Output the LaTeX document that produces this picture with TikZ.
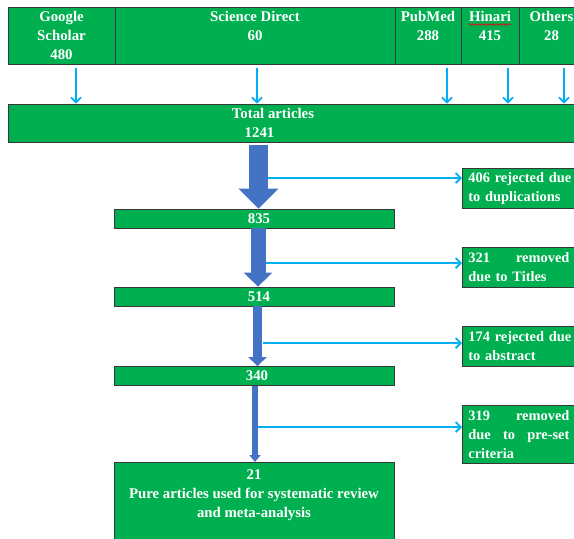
\documentclass[tikz,border=0pt]{standalone}
\usepackage{fontspec}
\setmainfont{Liberation Serif}
\usetikzlibrary{arrows.meta,decorations.pathmorphing}
\definecolor{boxgreen}{RGB}{0,176,80}
\definecolor{boxline}{RGB}{55,55,55}
\definecolor{skyblue}{RGB}{0,176,240}
\definecolor{flowblue}{RGB}{68,114,196}
\definecolor{spellred}{RGB}{200,30,30}
\newcommand\jline[1]{\leavevmode\hbox to 101pt{#1}}
\begin{document}
\begin{tikzpicture}[x=1pt,y=-1pt,
  gbox/.style={draw=boxline, line width=0.8pt, fill=boxgreen, text=white,
    font=\fontsize{14.8}{19}\selectfont\bfseries, inner sep=0pt, align=center},
  topbox/.style={gbox, minimum height=57pt},
  sidebox/.style={gbox, anchor=north west, text width=110pt, inner xsep=6pt, align=left,
    font=\fontsize{14.4}{19}\selectfont\bfseries},
  skyarrow/.style={draw=skyblue, line width=1.8pt, -{Straight Barb[length=5pt,width=10pt]}},
  flow/.style={draw=flowblue}
]
\useasboundingbox (0,0) rectangle (574,539);
\fill[white] (0,0) rectangle (574,539);

% top row
\node[topbox, minimum width=107pt] (gs) at (61.5,35.5) {Google\\Scholar\\480};
\node[topbox, minimum width=280pt] (sd) at (255,35.5) {Science Direct\\60\\\mbox{}};
\node[topbox, minimum width=66pt] (pm) at (428,35.5) {PubMed\\288\\\mbox{}};
\node[topbox, minimum width=58pt] (hi) at (490,35.5) {Hinari\\415\\\mbox{}};
\node[topbox, minimum width=65pt] (ot) at (551.5,35.5) {Others\\28\\\mbox{}};
\draw[spellred, line width=0.9pt, decorate, decoration={snake,amplitude=0.6pt,segment length=3pt}]
  ([xshift=-21pt,yshift=11pt]hi.center) -- ([xshift=21pt,yshift=11pt]hi.center);

% total
\node[gbox, minimum width=576pt, minimum height=38pt] (tot) at (296,123)
  {\hspace*{-46pt}Total articles\\\hspace*{-73pt}1241};

% column x positions
\coordinate (x1) at (76,0);
\coordinate (x2) at (257,0);
\coordinate (x3) at (447,0);
\coordinate (x4) at (508,0);
\coordinate (x5) at (564,0);
\foreach \src/\xx in {gs/x1, sd/x2, pm/x3, hi/x4, ot/x5}
  \draw[skyarrow, shorten <=4pt] (\src.south -| \xx) -- (tot.north -| \xx);

% main column
\node[gbox, minimum width=280pt, minimum height=19pt] (n835) at (254,218.5) {\hspace*{10pt}835};
\node[gbox, minimum width=280pt, minimum height=19pt] (n514) at (254,296.5) {\hspace*{10pt}514};
\node[gbox, minimum width=280pt, minimum height=19pt] (n340) at (254,376) {\hspace*{6pt}340};
\node[gbox, minimum width=280pt, minimum height=82pt, anchor=north] (n21) at (254,462)
  {21\\Pure articles used for systematic review\\and meta-analysis\\\mbox{}};

% side boxes
\node[sidebox, minimum height=40pt] (r1) at (462,168) {406 rejected due\\to duplications};
\node[sidebox, minimum height=40pt] (r2) at (462,247) {\jline{321\hfil removed}\\due to Titles};
\node[sidebox, minimum height=40pt] (r3) at (462,326) {174 rejected due\\to abstract};
\node[sidebox, minimum height=58pt] (r4) at (462,405) {\jline{319\hfil removed}\\\jline{due\hfil to\hfil pre-set}\\criteria};

% flow arrows
\coordinate (c1) at (258.5,0);
\coordinate (c2) at (258,0);
\coordinate (c3) at (257.5,0);
\coordinate (c4) at (255,0);
\draw[flow, line width=19pt, shorten <=3pt, -{Triangle[width=39pt,length=20pt]}] (tot.south -| c1) -- (n835.north -| c1);
\draw[flow, line width=15pt, -{Triangle[width=28pt,length=14pt]}] (n835.south -| c2) -- (n514.north -| c2);
\draw[flow, line width=9pt, -{Triangle[width=18pt,length=9pt]}] (n514.south -| c3) -- (n340.north -| c3);
\draw[flow, line width=6pt, -{Triangle[width=11pt,length=7pt]}] (n340.south -| c4) -- (n21.north -| c4);

% side arrows
\coordinate (s1) at (268,178);
\coordinate (s2) at (266,263);
\coordinate (s3) at (263,343);
\coordinate (s4) at (258,427);
\draw[skyarrow] (s1) -- (s1 -| r1.west);
\draw[skyarrow] (s2) -- (s2 -| r2.west);
\draw[skyarrow] (s3) -- (s3 -| r3.west);
\draw[skyarrow] (s4) -- (s4 -| r4.west);
\end{tikzpicture}
\end{document}
